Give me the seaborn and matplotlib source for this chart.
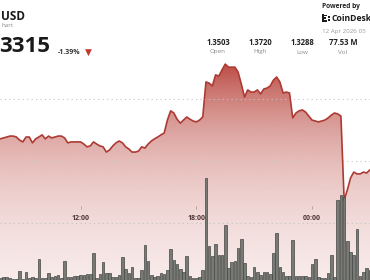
import numpy as np
import pandas as pd
import matplotlib
matplotlib.use("Agg")
import matplotlib.pyplot as plt
import seaborn as sns
from matplotlib.patches import PathPatch, Rectangle
from matplotlib.path import Path

# ---------------- data ----------------
start_time = "2026-04-11 07:50"
interval_min = 10

price = [1.3472, 1.3475, 1.3478, 1.3481, 1.3481, 1.3478, 1.3468, 1.3462, 1.3478, 1.3478,
         1.3459, 1.3472, 1.3478, 1.3485, 1.3472, 1.3481, 1.3475, 1.3478, 1.3481, 1.3481,
         1.3475, 1.3459, 1.3462, 1.3462, 1.3462, 1.3462, 1.3455, 1.3446, 1.3449, 1.3462,
         1.3455, 1.3449, 1.3446, 1.3429, 1.3436, 1.3449, 1.3459, 1.3465, 1.3459, 1.3446,
         1.3439, 1.3429, 1.3429, 1.3432, 1.3446, 1.3442, 1.3455, 1.3465, 1.3472, 1.3478,
         1.3485, 1.3491, 1.3533, 1.3563, 1.3556, 1.3536, 1.3523, 1.3533, 1.3543, 1.3536,
         1.3530, 1.3527, 1.3533, 1.3543, 1.3657, 1.3653, 1.3644, 1.3680, 1.3676, 1.3696,
         1.3715, 1.3705, 1.3705, 1.3705, 1.3689, 1.3650, 1.3608, 1.3631, 1.3624, 1.3624,
         1.3631, 1.3618, 1.3634, 1.3637, 1.3644, 1.3663, 1.3673, 1.3657, 1.3621, 1.3624,
         1.3621, 1.3540, 1.3556, 1.3563, 1.3566, 1.3559, 1.3546, 1.3533, 1.3530, 1.3527,
         1.3530, 1.3533, 1.3540, 1.3549, 1.3556, 1.3553, 1.3546, 1.3273, 1.3306, 1.3345,
         1.3364, 1.3358, 1.3358, 1.3364, 1.3361, 1.3371]

volume = [2, 3, 3, 2, 1, 1, 9, 1, 8, 2,
          3, 2, 21, 2, 2, 7, 3, 4, 5, 2,
          19, 3, 3, 4, 4, 5, 5, 6, 6, 27,
          2, 6, 18, 7, 7, 3, 3, 5, 23, 11,
          7, 13, 2, 2, 10, 35, 19, 5, 3, 4,
          7, 6, 10, 31, 20, 16, 11, 8, 24, 4,
          2, 2, 3, 10, 102, 34, 24, 36, 25, 25,
          55, 12, 18, 19, 32, 41, 17, 4, 3, 13,
          8, 5, 8, 8, 6, 27, 47, 13, 8, 4,
          4, 40, 4, 4, 4, 4, 3, 16, 21, 3,
          2, 2, 7, 25, 3, 80, 85, 83, 39, 28,
          25, 51, 4, 8, 12, 10]

tick_hours = [12, 18, 24]
tick_labels = ["12:00", "18:00", "00:00"]
grid_levels = [1.32, 1.34, 1.36]

pair_name = "USD"
chart_sub = "hart"
last_price = "3315"
change_pct = "-1.39%"
stat_values = ["1.3503", "1.3720", "1.3288", "77.53 M"]
stat_names = ["Open", "High", "Low", "Vol"]
timestamp = "12 Apr 2026 05"

# ---------------- setup ----------------
sns.set_theme(style="white")
plt.rcParams["font.family"] = ["Open Sans", "DejaVu Sans"]

W, H = 370, 280
fig = plt.figure(figsize=(W / 100, H / 100), dpi=100)
ax = fig.add_axes([0, 0, 1, 1])

times = pd.date_range(start_time, periods=len(price), freq=f"{interval_min}min")
day0 = times[0].normalize()
hours = np.asarray((times - day0) / pd.Timedelta(hours=1), dtype=float)
df = pd.DataFrame({"hours": hours, "price": price, "volume": volume})

y_top, y_bot = 1.392325, 1.301325
x_left, x_right = 7.817, 27.008

# gradient area fill
n = 400
frac = np.linspace(0, 1, n)
ypx = (1 - frac) * H
alpha = np.clip(0.9 * np.exp(-(ypx - 70) / 98.6), 0, 0.9)
rgba = np.zeros((n, 1, 4))
rgba[..., 0] = 184 / 255
rgba[..., 1] = 66 / 255
rgba[..., 2] = 58 / 255
rgba[:, 0, 3] = alpha
img = ax.imshow(rgba, extent=[x_left, x_right, y_bot, y_top], origin="lower",
                aspect="auto", interpolation="bilinear", zorder=1)
verts = [(x_left, y_bot), (x_left, df["price"].iloc[0])] + list(zip(df["hours"], df["price"])) + \
        [(x_right, df["price"].iloc[-1]), (x_right, y_bot)]
patch = PathPatch(Path(verts), transform=ax.transData, facecolor="none", edgecolor="none")
ax.add_patch(patch)
img.set_clip_path(patch)

for g in grid_levels:
    ax.axhline(g, color="#c4c4c4", lw=0.8, ls=(0, (1, 3)), zorder=2)

sns.lineplot(data=df, x="hours", y="price", ax=ax, color="#ad3a33", lw=1.2, zorder=3)

ax.set_xlim(x_left, x_right)
ax.set_ylim(y_bot, y_top)
for s in ax.spines.values():
    s.set_visible(False)
ax.spines["bottom"].set_position(("data", 1.32538))
ax.set_yticks([])
ax.set_xticks(tick_hours, tick_labels)
ax.tick_params(axis="x", direction="out", length=2, width=0.6, color="#b0b0b0",
               pad=4.5, labelsize=5, labelcolor="#333333", bottom=True)
for lbl in ax.get_xticklabels():
    lbl.set_fontweight("bold")
ax.set_xlabel("")
ax.set_ylabel("")
ax.patch.set_alpha(0)

# volume bars
ax2 = ax.twinx()
sns.barplot(data=df, x="hours", y="volume", native_scale=True, ax=ax2, color="#777a75",
            edgecolor="#454745", linewidth=0.5, width=0.8, errorbar=None, saturation=1)
ax2.set_ylim(0, H)
ax2.set_xlim(x_left, x_right)
ax2.axis("off")

# ---------------- header ----------------
def px(x, y):
    return x / W, 1 - y / H

fig.text(*px(25.5, 16), pair_name, ha="right", va="center", fontsize=8.5, fontweight="bold", color="#1a1a1a")
fig.text(*px(13, 25.5), chart_sub, ha="right", va="center", fontsize=4.5, color="#8a8a8a")
fig.text(*px(50, 46.5), last_price, ha="right", va="center", fontsize=16, fontweight="bold", color="#1a1a1a")
fig.text(*px(58, 52), change_pct, ha="left", va="center", fontsize=5, fontweight="bold", color="#333333")
fig.text(*px(88.5, 52.5), "▼", ha="center", va="center", fontsize=6.5, color="#c0392b",
         family=["DejaVu Sans"])

stat_x = [218, 260, 302, 343]
for sx, v, nme in zip(stat_x, stat_values, stat_names):
    fig.text(*px(sx, 42.5), v, ha="center", va="center", fontsize=5.5, fontweight="bold", color="#222222")
    fig.text(*px(sx, 52), nme, ha="center", va="center", fontsize=4.5, color="#8a8a8a")

fig.text(*px(322, 6), "Powered by", ha="left", va="center", fontsize=4.8, fontweight="bold", color="#222222")
fig.text(*px(331, 18.5), "CoinDesk", ha="left", va="center", fontsize=6.2, fontweight="bold", color="#1a1a1a")
fig.text(*px(322, 31), timestamp, ha="left", va="center", fontsize=4.5, color="#9a9a9a")

# logo icon (small squares)
logo_rects = [(322, 14.5, 1.6, 7.5), (322, 14.5, 5, 1.6), (322, 20.4, 5, 1.6), (322, 17.5, 3.5, 1.6),
              (328, 16, 1.6, 1.6), (328, 19, 1.6, 1.6)]
for rx, ry, rw, rh in logo_rects:
    fig.add_artist(Rectangle((rx / W, 1 - (ry + rh) / H), rw / W, rh / H,
                             transform=fig.transFigure, color="#1a1a1a", lw=0))

fig.savefig("out.png", dpi=100)
